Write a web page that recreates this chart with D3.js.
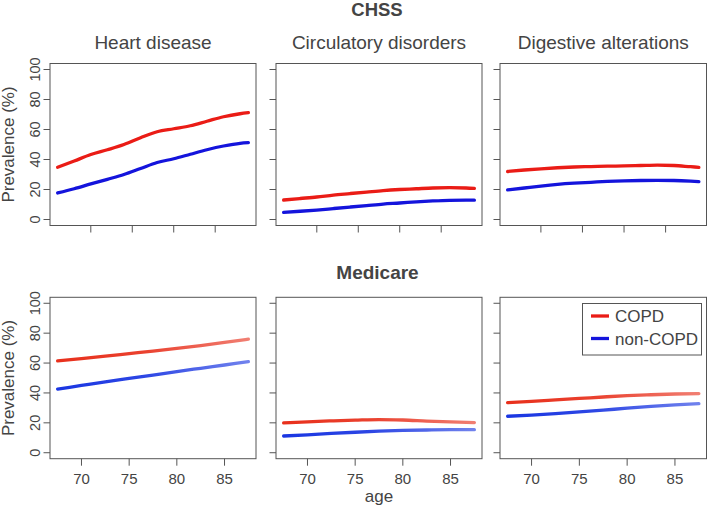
<!DOCTYPE html>
<html>
<head>
<meta charset="utf-8">
<script src="https://cdn.jsdelivr.net/npm/d3@7"></script>
<style>
  html, body { margin: 0; padding: 0; background: #fff; }
  svg { display: block; font-family: "Liberation Sans", Arial, sans-serif; }
</style>
</head>
<body>
<div id="chart"></div>
<script>
// Ages for each study
const chssAge = [66, 68, 70, 72, 74, 76, 78, 80, 82, 84, 86, 88, 89];
const medicareAge = [67.5, 70, 72.5, 75, 77.5, 80, 82.5, 85, 87.5];

// CHSS prevalence (%)
const chssHeartCopd = [34.8, 39, 43.3, 46.5, 50, 54.5, 58.5, 60.5, 62.5, 65.5, 68.5, 70.5, 71.2];
const chssHeartNon = [17.7, 20.5, 23.7, 26.8, 30, 34, 38, 40.5, 43.5, 46.5, 49, 50.8, 51.2];
const chssCircCopd = [13, 14, 15, 16.3, 17.3, 18.3, 19.3, 20, 20.5, 21, 21.2, 21, 20.7];
const chssCircNon = [4.8, 5.5, 6.3, 7.3, 8.3, 9.3, 10.3, 11, 11.8, 12.4, 12.8, 12.9, 12.9];
const chssDigCopd = [32, 33, 33.8, 34.5, 35, 35.3, 35.6, 35.7, 36, 36.3, 36, 35.2, 34.8];
const chssDigNon = [19.7, 21, 22.3, 23.4, 24.2, 24.8, 25.4, 25.8, 26, 26.1, 26, 25.6, 25.3];

// Medicare prevalence (%)
const medHeartCopd = [61.5, 63, 64.6, 66.3, 68, 69.8, 71.7, 73.8, 76];
const medHeartNon = [42.6, 45, 47.4, 49.7, 52, 54.3, 56.5, 58.7, 60.9];
const medCircCopd = [20, 20.7, 21.3, 21.8, 22.2, 21.9, 21.2, 20.6, 20.2];
const medCircNon = [11.2, 12, 12.9, 13.7, 14.4, 14.9, 15.2, 15.4, 15.4];
const medDigCopd = [33.5, 34.3, 35.3, 36.3, 37.3, 38.2, 38.8, 39.3, 39.6];
const medDigNon = [24.4, 25.2, 26.2, 27.3, 28.5, 29.8, 31, 32, 32.8];

const panelTitles = ["Heart disease", "Circulatory disorders", "Digestive alterations"];
const studyTitles = ["CHSS", "Medicare"];
const seriesNames = ["COPD", "non-COPD"];
const yTicks = [0, 20, 40, 60, 80, 100];
const xTicks = [70, 75, 80, 85];

const W = 708, H = 508;
const colX = [[50, 256], [276, 482], [500, 706.5]];
const rowY = [[63.5, 225.5], [297.3, 458.7]];
const red = "#ea1c16", blue = "#1414dc";
const redMed = "#e8301c", blueMed = "#1a36e2";

const svg = d3.select("#chart").append("svg")
    .attr("width", W)
    .attr("height", H);

const defs = svg.append("defs");

const rows = [
    { age: chssAge, copd: [chssHeartCopd, chssCircCopd, chssDigCopd], non: [chssHeartNon, chssCircNon, chssDigNon] },
    { age: medicareAge, copd: [medHeartCopd, medCircCopd, medDigCopd], non: [medHeartNon, medCircNon, medDigNon] }
];

// pad a range by 4% on each side, like R does
function padded(ext) {
    const d = (ext[1] - ext[0]) * 0.04;
    return [ext[0] - d, ext[1] + d];
}

rows.forEach((row, r) => {
    const [y0, y1] = rowY[r];
    const y = d3.scaleLinear().domain(padded([0, 100])).range([y1, y0]);

    row.copd.forEach((copdVals, c) => {
        const [x0, x1] = colX[c];
        const x = d3.scaleLinear().domain(padded(d3.extent(row.age))).range([x0, x1]);
        const g = svg.append("g");

        // Series lines
        const line = d3.line()
            .x(d => x(d[0]))
            .y(d => y(d[1]))
            .curve(d3.curveMonotoneX);

        const series = [
            { vals: copdVals, color: r === 0 ? red : redMed },
            { vals: row.non[c], color: r === 0 ? blue : blueMed }
        ];

        series.forEach((s, i) => {
            let stroke = s.color;
            if (r === 1) {
                // Medicare lines fade toward the older ages
                const id = `grad-${r}-${c}-${i}`;
                const grad = defs.append("linearGradient")
                    .attr("id", id)
                    .attr("gradientUnits", "userSpaceOnUse")
                    .attr("x1", x(row.age[0])).attr("x2", x(row.age[row.age.length - 1]))
                    .attr("y1", 0).attr("y2", 0);
                grad.append("stop").attr("offset", "0%").attr("stop-color", s.color).attr("stop-opacity", 1);
                grad.append("stop").attr("offset", "45%").attr("stop-color", s.color).attr("stop-opacity", 0.92);
                grad.append("stop").attr("offset", "100%").attr("stop-color", s.color).attr("stop-opacity", 0.62);
                stroke = `url(#${id})`;
            }
            g.append("path")
                .datum(row.age.map((a, k) => [a, s.vals[k]]))
                .attr("fill", "none")
                .attr("stroke", stroke)
                .attr("stroke-width", 3.3)
                .attr("stroke-linecap", "round")
                .attr("d", line);
        });

        // Box
        g.append("rect")
            .attr("x", x0).attr("y", y0)
            .attr("width", x1 - x0).attr("height", y1 - y0)
            .attr("fill", "none")
            .attr("stroke", "#555")
            .attr("stroke-width", 1);

        // Y ticks
        g.selectAll(".ytick").data(yTicks).enter().append("line")
            .attr("x1", x0 - 6.5).attr("x2", x0)
            .attr("y1", d => y(d)).attr("y2", d => y(d))
            .attr("stroke", "#555");

        // X ticks
        g.selectAll(".xtick").data(xTicks).enter().append("line")
            .attr("x1", d => x(d)).attr("x2", d => x(d))
            .attr("y1", y1).attr("y2", y1 + 7)
            .attr("stroke", "#555");

        if (c === 0) {
            g.selectAll(".ylab").data(yTicks).enter().append("text")
                .attr("transform", d => `translate(${x0 - 10.5},${y(d)}) rotate(-90)`)
                .attr("text-anchor", "middle")
                .attr("font-size", 14.5)
                .attr("fill", "#444")
                .text(d => d);

            g.append("text")
                .attr("transform", `translate(13.5,${(y0 + y1) / 2}) rotate(-90)`)
                .attr("text-anchor", "middle")
                .attr("font-size", 17)
                .attr("fill", "#444")
                .text("Prevalence (%)");
        }

        if (r === 1) {
            g.selectAll(".xlab").data(xTicks).enter().append("text")
                .attr("x", d => x(d))
                .attr("y", y1 + 25)
                .attr("text-anchor", "middle")
                .attr("font-size", 15)
                .attr("fill", "#444")
                .text(d => d);
        } else {
            g.append("text")
                .attr("x", (x0 + x1) / 2)
                .attr("y", 49)
                .attr("text-anchor", "middle")
                .attr("font-size", 19)
                .attr("fill", "#444")
                .text(panelTitles[c]);
        }
    });
});

// Study titles
svg.append("text")
    .attr("x", 377).attr("y", 16)
    .attr("text-anchor", "middle")
    .attr("font-size", 18.5).attr("font-weight", "bold")
    .attr("fill", "#444")
    .text(studyTitles[0]);

svg.append("text")
    .attr("x", 377.5).attr("y", 279)
    .attr("text-anchor", "middle")
    .attr("font-size", 19).attr("font-weight", "bold")
    .attr("fill", "#444")
    .text(studyTitles[1]);

// x label
svg.append("text")
    .attr("x", 379).attr("y", 502)
    .attr("text-anchor", "middle")
    .attr("font-size", 17)
    .attr("fill", "#444")
    .text("age");

// Legend
const legend = svg.append("g");
legend.append("rect")
    .attr("x", 582.5).attr("y", 303.5)
    .attr("width", 119).attr("height", 51.5)
    .attr("fill", "#fff")
    .attr("stroke", "#555");

[red, blue].forEach((col, i) => {
    const ly = 316 + i * 22.5;
    legend.append("line")
        .attr("x1", 591).attr("x2", 609)
        .attr("y1", ly).attr("y2", ly)
        .attr("stroke", col)
        .attr("stroke-width", 3.3);
    legend.append("text")
        .attr("x", 615).attr("y", ly + 6)
        .attr("font-size", 17)
        .attr("fill", "#444")
        .text(seriesNames[i]);
});
</script>
</body>
</html>
